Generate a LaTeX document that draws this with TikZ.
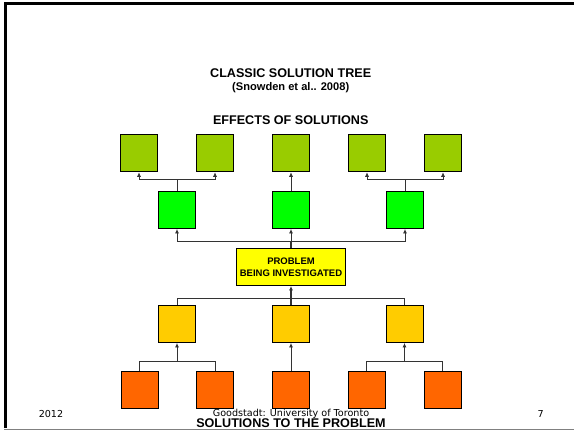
\documentclass[tikz,border=0pt]{standalone}
\usepackage{fontspec}
\setmainfont{Liberation Sans}
\newfontfamily\footfont{DejaVu Sans}
\usepackage{tikz}
\usetikzlibrary{arrows.meta}
\definecolor{effgreen}{HTML}{99CC00}
\definecolor{midgreen}{HTML}{00FF00}
\definecolor{probyellow}{HTML}{FFFF00}
\definecolor{solgold}{HTML}{FFCC00}
\definecolor{rootorange}{HTML}{FF6600}
\begin{document}
\begin{tikzpicture}[x=1pt,y=-1pt,>={Latex[length=4.5pt,width=4pt]},
  sq/.style={draw=black,line width=0.9pt,minimum size=37pt,inner sep=0pt},
  link/.style={draw=black!80,line width=0.8pt},
  head/.style={font=\bfseries\fontsize{12.6}{14}\selectfont},
  foot/.style={font=\footfont\fontsize{9.6}{11}\selectfont}]
\useasboundingbox (0,0) rectangle (574,431);
%frame
\draw[line width=3pt] (5.5,428) -- (5.5,3.5) -- (574,3.5);
\draw[black!50,line width=1.5pt] (4,429.5) -- (574,429.5);
%titles
\node[head] (title) at (290.7,72.7) {CLASSIC SOLUTION TREE};
\node[font=\bfseries\fontsize{11.1}{13}\selectfont] (cite) at (290.7,87.7) {(Snowden et al.. 2008)};
\node[head] (efftitle) at (290.7,120) {EFFECTS OF SOLUTIONS};
%effects
\node[sq,fill=effgreen] (e1) at (139,153.3) {};
\node[sq,fill=effgreen] (e2) at (215,153.3) {};
\node[sq,fill=effgreen] (e3) at (291,153.3) {};
\node[sq,fill=effgreen] (e4) at (367,153.3) {};
\node[sq,fill=effgreen] (e5) at (443,153.3) {};
\node[sq,fill=midgreen] (g1) at (177,210) {};
\node[sq,fill=midgreen] (g2) at (291,210) {};
\node[sq,fill=midgreen] (g3) at (405,210) {};
%problem
\node[draw=black,line width=0.9pt,fill=probyellow,minimum width=108pt,minimum height=37pt,
  align=center,font=\bfseries\fontsize{9.5}{12}\selectfont] (prob) at (291,267)
  {PROBLEM\\BEING INVESTIGATED};
%solutions
\node[sq,fill=solgold] (s1) at (177,324) {};
\node[sq,fill=solgold] (s2) at (291,324) {};
\node[sq,fill=solgold] (s3) at (404.5,324) {};
\node[sq,fill=rootorange] (o1) at (139.5,390) {};
\node[sq,fill=rootorange] (o2) at (215,390) {};
\node[sq,fill=rootorange] (o3) at (291,390) {};
\node[sq,fill=rootorange] (o4) at (366.5,390) {};
\node[sq,fill=rootorange] (o5) at (442.5,390) {};
%junctions
\coordinate (j1) at (177,179.3);
\coordinate (j2) at (405,179.3);
\coordinate (j3) at (291,241);
\coordinate (j4) at (291,298.3);
\coordinate (j5) at (177,361.7);
\coordinate (j6) at (404.5,361.7);
%connectors
\draw[link] (g1.north) -- (j1);
\draw[link,->] (j1) -| (e1.south);
\draw[link,->] (j1) -| (e2.south);
\draw[link,->] (g2.north) -- (e3.south);
\draw[link] (g3.north) -- (j2);
\draw[link,->] (j2) -| (e4.south);
\draw[link,->] (j2) -| (e5.south);
\draw[link,line width=1.2pt] (prob.north) -- (j3);
\draw[link,->] (j3) -| (g1.south);
\draw[link,->] (j3) -- (g2.south);
\draw[link,->] (j3) -| (g3.south);
\draw[link,line width=1.2pt,->] (s2.north) -- (prob.south);
\draw[link] (j4) -| (s1.north);
\draw[link] (j4) -| (s3.north);
\draw[link] (o1.north) |- (j5) -| (o2.north);
\draw[link,->] (j5) -- (s1.south);
\draw[link,->] (o3.north) -- (s2.south);
\draw[link] (o4.north) |- (j6) -| (o5.north);
\draw[link,->] (j6) -- (s3.south);
%footer
\node[foot] (year) at (51,414) {2012};
\node[foot] (uni) at (291,414) {Goodstadt: University of Toronto};
\node[foot] (page) at (540.6,414) {7};
\node[head] (soltitle) at (291,423) {SOLUTIONS TO THE PROBLEM};
\end{tikzpicture}
\end{document}
